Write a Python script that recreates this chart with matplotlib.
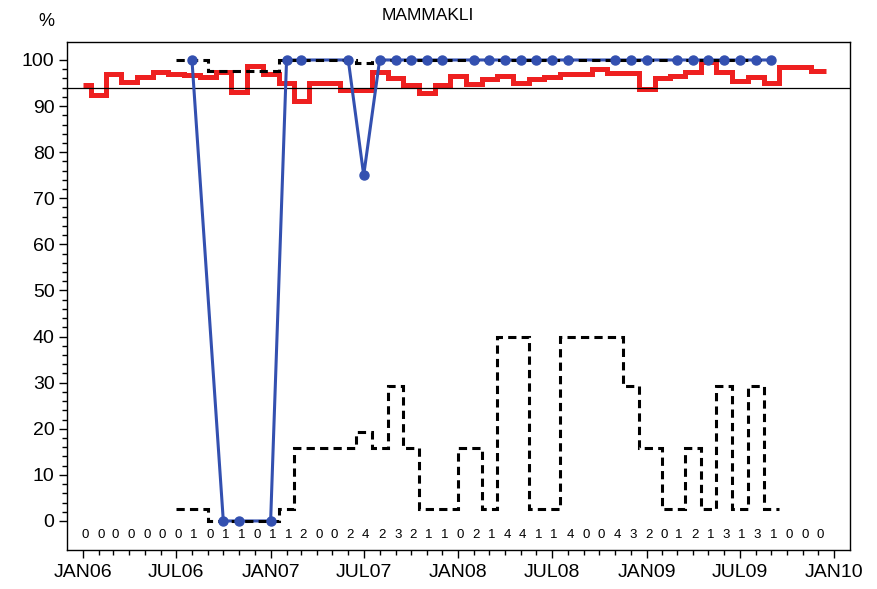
import numpy as np
import pandas as pd
import matplotlib
matplotlib.use("Agg")
import matplotlib.pyplot as plt
import matplotlib.dates as mdates

plt.rcParams['font.family'] = ['Liberation Sans', 'DejaVu Sans']

# ---------------- data ----------------
months = pd.date_range('2006-01-01', periods=48, freq='MS')

# number of observations per month (row of digits at bottom)
counts = [0, 0, 0, 0, 0, 0, 0, 1, 0, 1, 1, 0,
          1, 1, 2, 0, 0, 2, 4, 2, 3, 2, 1, 1,
          0, 2, 1, 4, 4, 1, 1, 4, 0, 0, 4, 3,
          2, 0, 1, 2, 1, 3, 1, 3, 1, 0, 0, 0]

nan = np.nan
# blue: percentage per month (NaN where no observation)
pct = [nan, nan, nan, nan, nan, nan, nan, 100, nan, 0, 0, nan,
       0, 100, 100, nan, nan, 100, 75, 100, 100, 100, 100, 100,
       nan, 100, 100, 100, 100, 100, 100, 100, nan, nan, 100, 100,
       100, nan, 100, 100, 100, 100, 100, 100, 100, nan, nan, nan]

# dashed lower limit
lower = [nan, nan, nan, nan, nan, nan, nan, 2.5, nan, 0, 0, nan,
         0, 2.5, 15.8, nan, nan, 15.8, 19.4, 15.8, 29.2, 15.8, 2.5, 2.5,
         nan, 15.8, 2.5, 39.8, 39.8, 2.5, 2.5, 39.8, nan, nan, 39.8, 29.2,
         15.8, nan, 2.5, 15.8, 2.5, 29.2, 2.5, 29.2, 2.5, nan, nan, nan]

# dashed upper limit
upper = [nan, nan, nan, nan, nan, nan, nan, 100, nan, 97.5, 97.5, nan,
         97.5, 100, 100, nan, nan, 100, 99.4, 100, 100, 100, 100, 100,
         nan, 100, 100, 100, 100, 100, 100, 100, nan, nan, 100, 100,
         100, nan, 100, 100, 100, 100, 100, 100, 100, nan, nan, nan]

# red step line (reference series)
ref = [94.5, 92.4, 97.0, 95.3, 96.3, 97.4, 96.9, 96.7, 96.3, 97.3, 93.1, 98.8,
       97.0, 95.0, 91.2, 95.0, 95.0, 93.5, 93.5, 97.3, 96.1, 94.6, 92.8, 94.6,
       96.6, 94.8, 95.8, 96.5, 95.1, 95.8, 96.2, 96.9, 96.9, 98.0, 97.1, 97.1,
       93.7, 96.0, 96.6, 97.3, 99.6, 97.4, 95.5, 96.3, 95.1, 98.4, 98.4, 97.6]

target = 93.9
title = 'MAMMAKLI'
ylabel = '%'
xtick_dates = pd.date_range('2006-01-01', '2010-01-01', freq='6MS')
xtick_labels = [d.strftime('%b%y').upper() for d in xtick_dates]

# ---------------- helpers ----------------
x_all = mdates.date2num(months.to_pydatetime())


def step_edges(x):
    x = np.asarray(x, float)
    mids = (x[1:] + x[:-1]) / 2
    first = x[0] - (x[1] - x[0]) / 2
    last = x[-1] + (x[-1] - x[-2]) / 2
    return np.concatenate([[first], mids, [last]])


# ---------------- figure ----------------
fig = plt.figure(figsize=(8.78, 5.89), dpi=100)
ax = fig.add_axes([0.0763, 0.0662, 0.892, 0.8625])

blue = '#3350b0'
red = '#ee2020'

# red reference step line
red_edges = step_edges(x_all)
red_edges[0] = x_all[0]
ax.stairs(ref, red_edges, baseline=None, color=red, lw=3.6, zorder=1)

# horizontal reference line
ax.axhline(target, color='black', lw=0.9, zorder=1.5)

# blue line connecting observed months
pct_a = np.asarray(pct, float)
mask = ~np.isnan(pct_a)
xb = x_all[mask]
ax.plot(xb, pct_a[mask], color=blue, lw=2.2, zorder=2)

# dashed confidence limits as centered steps
for series in (lower, upper):
    s = np.asarray(series, float)[mask]
    ax.stairs(s, step_edges(xb), baseline=None, color='black', lw=2.2,
              linestyle=(0, (2.7, 1.7)), zorder=3)

# blue markers
ax.plot(xb, pct_a[mask], linestyle='none', marker='o', ms=6.5,
        color=blue, zorder=4)

# counts row
for xv, c in zip(x_all, counts):
    ax.text(xv + 4, -3.0, str(c), ha='center', va='center', fontsize=9.5)

# axes formatting
xmin = mdates.date2num(pd.Timestamp('2005-12-01'))
xmax = mdates.date2num(pd.Timestamp('2010-02-01'))
ax.set_xlim(xmin, xmax)
ax.set_ylim(-6.3, 103.9)

ax.set_xticks(mdates.date2num(xtick_dates.to_pydatetime()))
ax.set_xticklabels(xtick_labels, fontsize=14)
ax.set_xticks(mdates.date2num(pd.date_range('2006-01-01', '2010-01-01', freq='MS').to_pydatetime()), minor=True)

ax.set_yticks(np.arange(0, 101, 10))
ax.set_yticklabels([str(v) for v in range(0, 101, 10)], fontsize=14)
ax.set_yticks(np.arange(0, 101, 2), minor=True)

ax.tick_params(axis='both', which='major', length=6, width=1, direction='out')
ax.tick_params(axis='both', which='minor', length=3.5, width=1, direction='out')
ax.tick_params(axis='x', pad=4)
ax.tick_params(axis='y', pad=3)
for sp in ax.spines.values():
    sp.set_linewidth(1.0)

fig.text(428 / 878, 1 - 16 / 589, title, ha='center', va='center', fontsize=12.5)
fig.text(46 / 878, 1 - 22 / 589, ylabel, ha='center', va='center', fontsize=13)

fig.savefig('out.png', dpi=100)
